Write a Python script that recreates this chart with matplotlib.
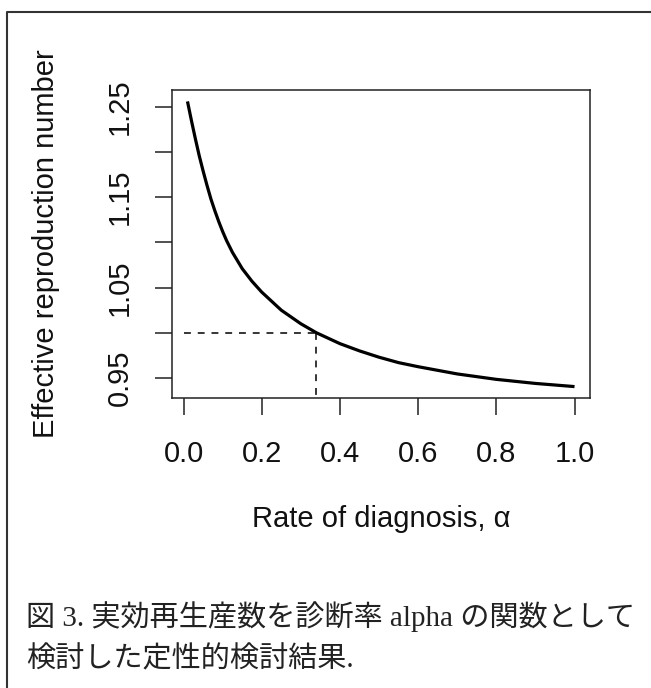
import matplotlib
matplotlib.use("Agg")
import matplotlib.pyplot as plt
from matplotlib.lines import Line2D

# ---- data ----
alpha = [0.01, 0.015, 0.02, 0.03, 0.04, 0.05, 0.06, 0.07, 0.08, 0.09, 0.10,
         0.11, 0.125, 0.15, 0.175, 0.20, 0.25, 0.30, 0.34, 0.40, 0.45, 0.50,
         0.55, 0.60, 0.70, 0.80, 0.90, 1.00]
r_eff = [1.256, 1.2455, 1.235, 1.215, 1.196, 1.179, 1.163, 1.148, 1.135,
         1.123, 1.112, 1.102, 1.089, 1.071, 1.057, 1.045, 1.025, 1.010, 1.000,
         0.988, 0.980, 0.973, 0.967, 0.9625, 0.9545, 0.9485, 0.9440, 0.9405]
threshold_alpha = 0.34
threshold_r = 1.0

xticks = [0.0, 0.2, 0.4, 0.6, 0.8, 1.0]
xtick_labels = ["0.0", "0.2", "0.4", "0.6", "0.8", "1.0"]
yticks = [0.95, 1.00, 1.05, 1.10, 1.15, 1.20, 1.25]
ytick_labels = ["0.95", "", "1.05", "", "1.15", "", "1.25"]

xlabel = "Rate of diagnosis, α"
ylabel = "Effective reproduction number"
caption1 = "図 3. 実効再生産数を診断率 alpha の関数として"
caption2 = "検討した定性的検討結果."

W, H = 651, 688
fig = plt.figure(figsize=(W / 100, H / 100), dpi=100)
fig.patch.set_facecolor("white")

L, R, T, B = 172, 590, 90, 398
ax = fig.add_axes([L / W, 1 - B / H, (R - L) / W, (B - T) / H])

sans = ["Liberation Sans", "DejaVu Sans"]
fs = 21

ax.plot(alpha, r_eff, color="black", lw=2.3, solid_capstyle="butt",
        solid_joinstyle="round")

# R-style axis range: data range extended by 4%
xmin, xmax = min(alpha), max(alpha)
ymin, ymax = min(r_eff), max(r_eff)
dx, dy = (xmax - xmin) * 0.04, (ymax - ymin) * 0.04
ax.set_xlim(xmin - dx, xmax + dx)
ax.set_ylim(ymin - dy, ymax + dy)

ax.plot([0.0, threshold_alpha], [threshold_r, threshold_r], color="black",
        lw=1.1, linestyle=(0, (4.5, 4.5)))
ax.plot([threshold_alpha, threshold_alpha], [threshold_r, ymin - dy],
        color="black", lw=1.1, linestyle=(0, (4.5, 4.5)))

ax.set_xticks(xticks)
ax.set_xticklabels(xtick_labels, family=sans, fontsize=fs, color="#111111")
ax.set_yticks(yticks)
ax.set_yticklabels(ytick_labels, family=sans, fontsize=fs, color="#111111",
                   rotation=90, va="center")

ax.tick_params(axis="both", direction="out", length=12.3, width=1.1,
               color="#222222")
ax.tick_params(axis="x", pad=18)
ax.tick_params(axis="y", pad=15)
for s in ax.spines.values():
    s.set_linewidth(1.1)
    s.set_color("#222222")

fig.text(381 / W, 1 - 519 / H, xlabel, ha="center", va="center",
         family=sans, fontsize=fs, color="#111111")
fig.text(46 / W, 1 - 244 / H, ylabel, ha="center", va="center", rotation=90,
         family=sans, fontsize=fs, color="#111111")

cap_family = ["Liberation Serif", "Noto Sans CJK JP"]
fig.text(26 / W, 1 - 617 / H, caption1, ha="left", va="center",
         family=cap_family, fontsize=fs, color="#222222")
fig.text(26 / W, 1 - 660 / H, caption2, ha="left", va="center",
         family=cap_family, fontsize=fs, color="#222222")

# outer frame (left and top edges visible)
fig.add_artist(Line2D([6.5 / W, 6.5 / W, 1.0], [0.0, 1 - 11.5 / H, 1 - 11.5 / H],
                      transform=fig.transFigure, color="#333333", lw=1.5))

fig.savefig("out.png", dpi=100, facecolor="white")
